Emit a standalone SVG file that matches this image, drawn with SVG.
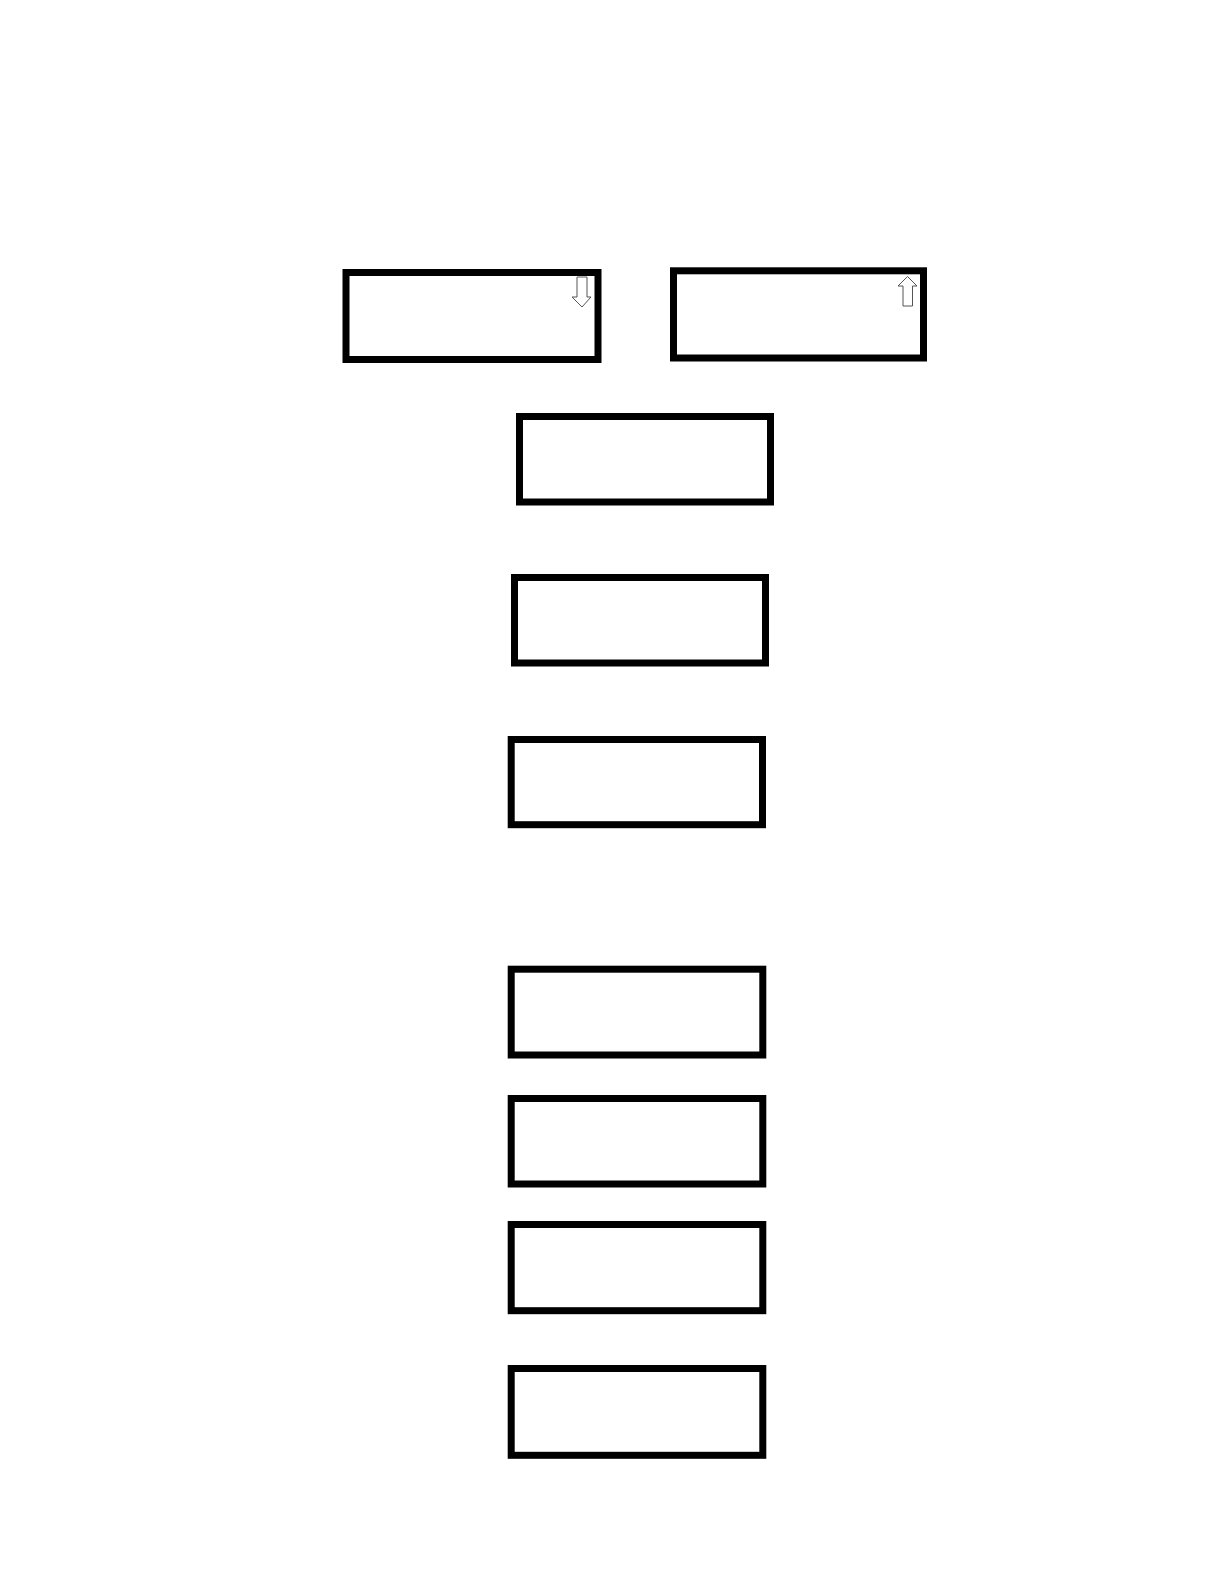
<svg xmlns="http://www.w3.org/2000/svg" width="1224" height="1584" viewBox="0 0 1224 1584">
<style>
.box{fill:#fff;stroke:#000;stroke-width:7}
.arr{fill:#fff;stroke:#555;stroke-width:1}
</style>
<rect width="1224" height="1584" fill="#fff"/>
<g id="node1"><rect class="box" x="346" y="272.5" width="252" height="87"/>
<path class="arr" d="M577,277 H587 V297 H591 L582,307 L572,297 H577 Z"/></g>
<g id="node2"><rect class="box" x="673.5" y="270.8" width="250" height="87.2"/>
<path class="arr" d="M907.5,276.5 L917,286 H912.5 V306 H903 V286 H898 Z"/></g>
<g id="node3"><rect class="box" x="519.5" y="416.5" width="251" height="85.5"/></g>
<g id="node4"><rect class="box" x="514.5" y="577.5" width="251" height="85.5"/></g>
<g id="node5"><rect class="box" x="511.2" y="739.5" width="251.3" height="85.2"/></g>
<g id="node6"><rect class="box" x="511.2" y="969.2" width="251.6" height="85.8"/></g>
<g id="node7"><rect class="box" x="511.2" y="1098.5" width="251.6" height="85.5"/></g>
<g id="node8"><rect class="box" x="511.2" y="1224.5" width="251.6" height="86.2"/></g>
<g id="node9"><rect class="box" x="511.2" y="1368.5" width="251.6" height="86.8"/></g>
<g id="connectors"></g>
</svg>
